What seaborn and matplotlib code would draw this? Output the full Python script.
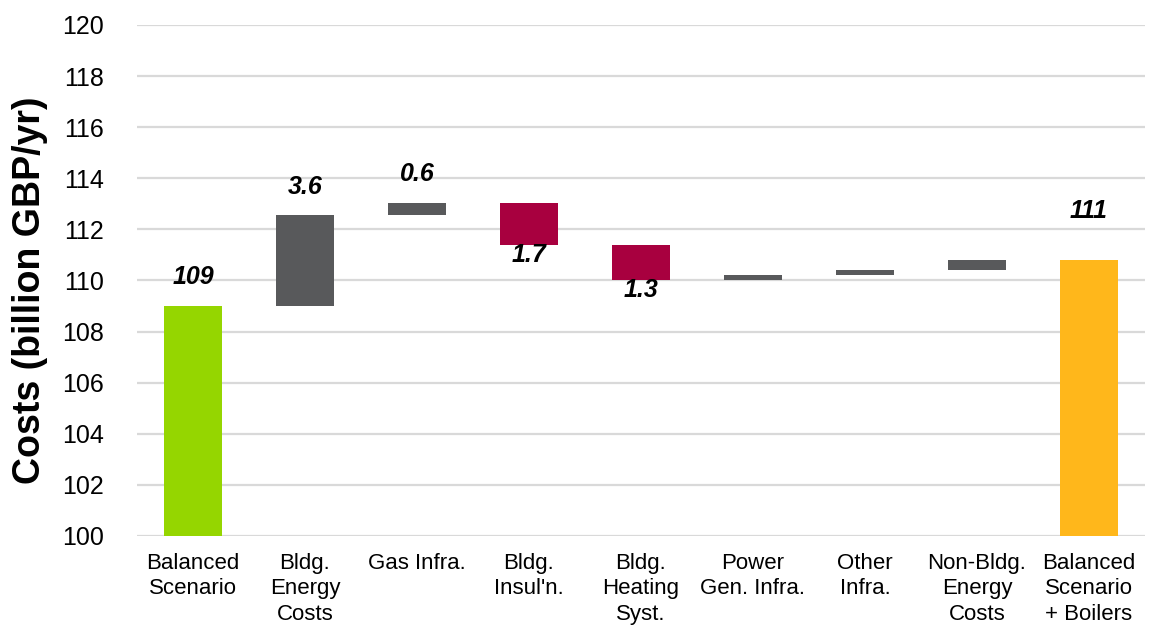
import matplotlib
matplotlib.use("Agg")
import matplotlib.pyplot as plt
import seaborn as sns
import numpy as np

categories = ["Balanced\nScenario", "Bldg.\nEnergy\nCosts", "Gas Infra.", "Bldg.\nInsul'n.",
              "Bldg.\nHeating\nSyst.", "Power\nGen. Infra.", "Other\nInfra.",
              "Non-Bldg.\nEnergy\nCosts", "Balanced\nScenario\n+ Boilers"]
start_value = 109.0
deltas = [3.55, 0.5, -1.68, -1.37, 0.22, 0.2, 0.4]
value_labels = ["109", "3.6", "0.6", "1.7", "1.3", "", "", "", "111"]

colors = {"start": "#95D600", "up": "#58595B", "down": "#A8003F", "end": "#FFB71B"}

# compute waterfall bottoms/heights
bottoms, heights = [], []
level = start_value
bottoms.append(100.0); heights.append(start_value - 100.0)
for d in deltas:
    bottoms.append(level); heights.append(d)
    level += d
bottoms.append(100.0); heights.append(level - 100.0)

sns.set_theme(style="white")
plt.rcParams['font.family'] = ['Liberation Sans', 'DejaVu Sans']

fig = plt.figure(figsize=(11.5, 6.28), dpi=100)
ax = fig.add_axes([0.1191, 0.1465, 0.8765, 0.8137])

for i, (cat, b, h) in enumerate(zip(categories, bottoms, heights)):
    if i == 0:
        c = colors["start"]
    elif i == len(categories) - 1:
        c = colors["end"]
    else:
        c = colors["up"] if h >= 0 else colors["down"]
    sns.barplot(x=[cat], y=[h], bottom=b, order=categories, color=c,
                saturation=1, width=0.51, errorbar=None, ax=ax, zorder=3,
                linewidth=0)

# value labels
lab_kw = dict(ha="center", fontsize=18, fontweight="bold", fontstyle="italic",
              color="black", zorder=4, textcoords="offset points")
for i, (b, h, lab) in enumerate(zip(bottoms, heights, value_labels)):
    if not lab:
        continue
    top = max(b, b + h)
    low = min(b, b + h)
    if i == len(categories) - 1:
        ax.annotate(lab, (i, top), xytext=(0, 26), va="bottom", **lab_kw)
    elif h >= 0:
        ax.annotate(lab, (i, top), xytext=(0, 12), va="bottom", **lab_kw)
    else:
        ax.annotate(lab, (i, low), xytext=(0, 2), va="top", **lab_kw)

ax.set_xlim(-0.5, len(categories) - 0.5)
ax.set_ylim(100, 120)
ax.set_yticks(np.arange(100, 121, 2))
ax.yaxis.grid(True, color="#D9D9D9", linewidth=1.6, zorder=0)
ax.xaxis.grid(False)
for s in ax.spines.values():
    s.set_visible(False)
ax.tick_params(axis="y", length=0, pad=24, labelsize=18, labelcolor="black")
ax.tick_params(axis="x", length=0, pad=12, labelsize=16, labelcolor="black")
for t in ax.get_xticklabels():
    t.set_linespacing(1.3)
ax.set_xlabel("")
ax.set_ylabel("Costs (billion GBP/yr)", fontsize=27, fontweight="bold", color="black")
ax.yaxis.set_label_coords(-0.088, 0.48)

fig.savefig("out.png", dpi=100)
